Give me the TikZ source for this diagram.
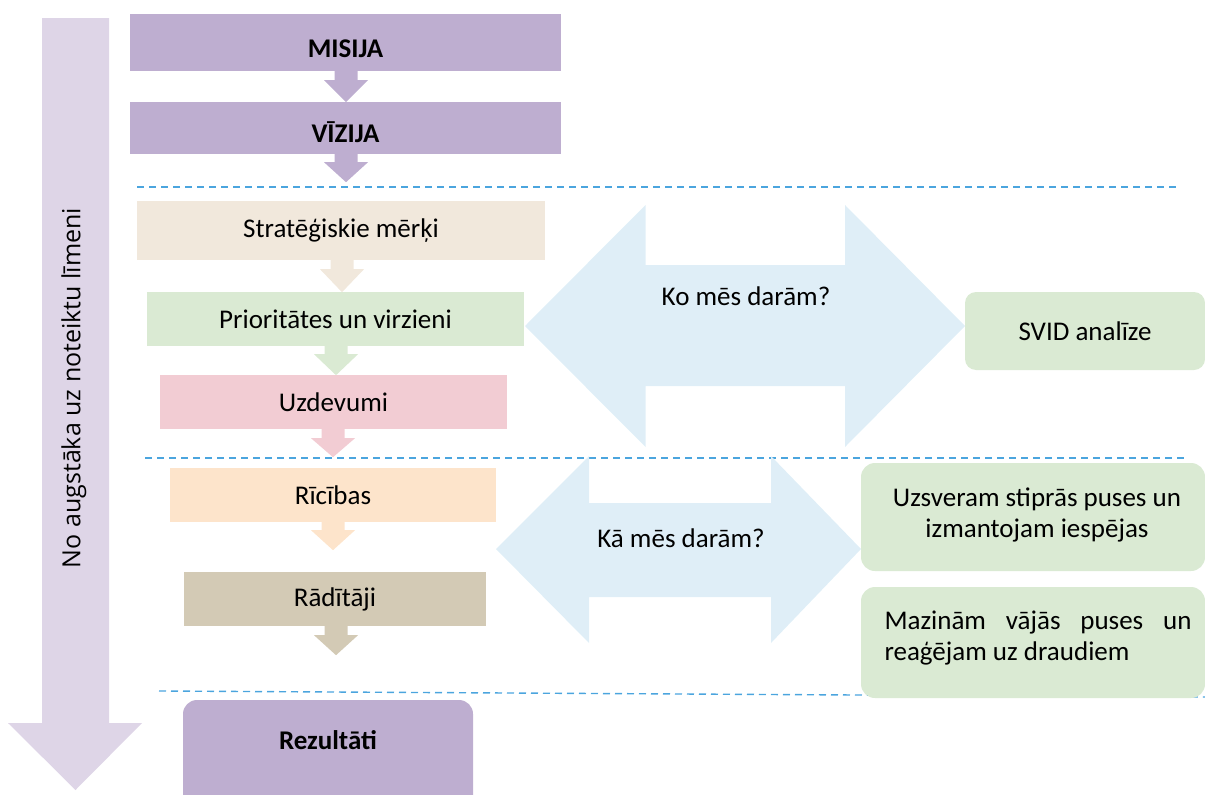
\documentclass[tikz,border=0pt]{standalone}
\usepackage{fontspec}
\setmainfont{Carlito}
\newfontfamily\vfont{Open Sans}
\usetikzlibrary{calc}
\definecolor{lav}{HTML}{DED5E7}
\definecolor{purp}{HTML}{BEAED0}
\definecolor{beige}{HTML}{F1E8DC}
\definecolor{grn}{HTML}{DAEAD3}
\definecolor{pnk}{HTML}{F2CCD3}
\definecolor{peach}{HTML}{FDE4CB}
\definecolor{taupe}{HTML}{D3CAB5}
\definecolor{lblue}{HTML}{DFEEF7}
\definecolor{dashc}{HTML}{4BA5DE}
\tikzset{
  box/.style={rectangle, inner sep=0pt, draw=none, font=\fontsize{27}{32}\selectfont},
  bbox/.style={box, font=\fontsize{27}{32}\selectfont\bfseries, text height=29pt, text depth=0pt},
  rbox/.style={rectangle, rounded corners=14pt, inner sep=0pt, draw=none},
  lbl/.style={inner sep=0pt, font=\fontsize{27}{32}\selectfont},
  sep/.style={draw=dashc, line width=1.4pt, dash pattern=on 7pt off 5pt},
}
\newcommand\dnarrow[5]{%
  \fill[#1] ($(#2.south)+(#3-11.5,0)$) -- ++(0,#4) -- ++(-10.5,0) -- ++(22,#5) -- ++(22,-#5) -- ++(-10.5,0) -- ++(0,-#4) -- cycle;}
\begin{document}
\begin{tikzpicture}[x=1pt,y=-1pt]
\useasboundingbox (0,0) rectangle (1205,795);
% big vertical arrow
\fill[lav] (42,18) -- (109,18) -- (109,723) -- (142,723) -- (75.5,790) -- (8,723) -- (42,723) -- cycle;
\node[rotate=90, inner sep=0pt, font=\vfont\fontsize{25}{30}\selectfont] (vert) at (74,388) {No augstāka uz noteiktu līmeni};
% separators
\draw[sep] (137,187) -- (1180,187);
\draw[sep] (145,458) -- (1185,458);
\draw[sep] (159,691) -- (1205,697);
% double arrows
\fill[lblue] (525,326) -- (645.5,205) -- (645.5,265) -- (845,265) -- (845,205) -- (965,326) -- (845,447) -- (845,386) -- (645.5,386) -- (645.5,447) -- cycle;
\node[lbl] (ko) at (746,296) {Ko mēs darām?};
\fill[lblue] (496,549) -- (589,456) -- (589,503) -- (771,503) -- (771,456) -- (861,549) -- (771,643) -- (771,597) -- (589,597) -- (589,643) -- cycle;
\node[lbl] (ka) at (681,538) {Kā mēs darām?};
% left column
\node[bbox, fill=purp, minimum width=431, minimum height=57] (mis) at (345.5,42.5) {MISIJA};
\node[bbox, fill=purp, minimum width=431, minimum height=52] (viz) at (345.5,128) {VĪZIJA};
\node[box, fill=beige, minimum width=408, minimum height=59] (strat) at (341,230.5) {Stratēģiskie mērķi};
\node[box, fill=grn, minimum width=377, minimum height=54] (prio) at (335.5,319) {Prioritātes un virzieni};
\node[box, fill=pnk, minimum width=347, minimum height=54] (uzd) at (333.5,402) {Uzdevumi};
\node[box, fill=peach, minimum width=326, minimum height=54] (ric) at (333,495) {Rīcības};
\node[box, fill=taupe, minimum width=302, minimum height=54] (rad) at (335,599) {Rādītāji};
\node[rbox, fill=purp, minimum width=290, minimum height=130] (rez) at (328,765) {};
\node[lbl, font=\fontsize{27}{32}\selectfont\bfseries] (reztxt) at (328,740) {Rezultāti};
% down arrows
\dnarrow{purp}{mis}{0.5}{9}{22}
\dnarrow{purp}{viz}{0.5}{8}{20}
\dnarrow{beige}{strat}{1}{9}{23}
\dnarrow{grn}{prio}{0.5}{8}{21}
\dnarrow{pnk}{uzd}{-0.5}{9}{19}
\dnarrow{peach}{ric}{0}{8}{20}
\dnarrow{taupe}{rad}{1}{9}{20}
% right boxes
\node[rbox, fill=grn, minimum width=240, minimum height=78, font=\fontsize{27}{32}\selectfont, rounded corners=11pt] (svid) at (1085,331) {SVID analīze};
\node[rbox, fill=grn, minimum width=344, minimum height=108] (uzsv) at (1033,517) {};
\node[lbl, align=center, font=\fontsize{27}{31}\selectfont] (uzsvtxt) at (1037,515) {Uzsveram stiprās puses un\\izmantojam iespējas};
\node[rbox, fill=grn, minimum width=344, minimum height=111] (maz) at (1033,642.5) {};
\node[lbl, align=left, font=\fontsize{27}{31}\selectfont] (maztxt) at (1038,638) {\makebox[307pt][s]{Mazinām vājās puses un}\\reaģējam uz draudiem};
\end{tikzpicture}
\end{document}
